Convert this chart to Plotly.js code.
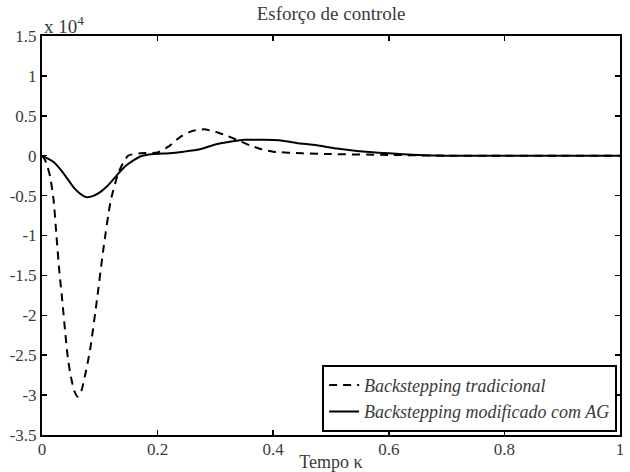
<!DOCTYPE html>
<html>
<head>
<meta charset="utf-8">
<script src="https://cdn.plot.ly/plotly-3.0.1.min.js"></script>
<style>
html,body{margin:0;padding:0;background:#fff;}
#chart{width:630px;height:472px;}
</style>
</head>
<body>
<div id="chart"></div>
<script>
// Values in units of 10^4
var tradX = [0, 0.005, 0.01, 0.014, 0.02, 0.025, 0.03, 0.035, 0.04, 0.045, 0.05, 0.056, 0.062, 0.068, 0.074, 0.083, 0.095, 0.106, 0.119, 0.133, 0.149, 0.17, 0.2, 0.22, 0.24, 0.26, 0.28, 0.3, 0.32, 0.34, 0.36, 0.38, 0.4, 0.45, 0.5, 0.6, 0.7, 0.8, 0.9, 1.0];
var tradY = [0, -0.05, -0.15, -0.26, -0.55, -1.0, -1.45, -1.81, -2.2, -2.55, -2.77, -2.95, -3.02, -2.95, -2.77, -2.44, -1.81, -1.18, -0.56, -0.2, 0.0, 0.03, 0.04, 0.12, 0.24, 0.31, 0.33, 0.3, 0.25, 0.19, 0.13, 0.08, 0.05, 0.03, 0.02, 0.01, 0, 0, 0, 0];

var modX = [0, 0.02, 0.035, 0.054, 0.065, 0.077, 0.09, 0.1, 0.113, 0.123, 0.135, 0.146, 0.17, 0.193, 0.22, 0.245, 0.273, 0.3, 0.33, 0.35, 0.38, 0.41, 0.44, 0.475, 0.51, 0.545, 0.6, 0.65, 0.7, 0.8, 0.9, 1.0];
var modY = [0, -0.08, -0.2, -0.39, -0.47, -0.52, -0.5, -0.46, -0.38, -0.3, -0.2, -0.12, -0.01, 0.02, 0.03, 0.05, 0.08, 0.14, 0.18, 0.2, 0.2, 0.195, 0.16, 0.13, 0.09, 0.06, 0.03, 0.01, 0, 0, 0, 0];

var seriesNames = ["Backstepping tradicional", "Backstepping modificado com AG"];
var xTicks = [0, 0.2, 0.4, 0.6, 0.8, 1];
var xTickText = ["0", "0.2", "0.4", "0.6", "0.8", "1"];
var yTicks = [-3.5, -3, -2.5, -2, -1.5, -1, -0.5, 0, 0.5, 1, 1.5];
var yTickText = ["-3.5", "-3", "-2.5", "-2", "-1.5", "-1", "-0.5", "0", "0.5", "1", "1.5"];

var fontFam = "'Liberation Serif', 'Times New Roman', serif";
var textCol = "#3a3a3a";

var traces = [
  {x: tradX, y: tradY, mode: "lines", name: seriesNames[0],
   line: {color: "#000", width: 2, dash: "8px,6px", shape: "spline", smoothing: 0.6}},
  {x: modX, y: modY, mode: "lines", name: seriesNames[1],
   line: {color: "#000", width: 2, shape: "spline", smoothing: 0.6}}
];

var axisCommon = {
  showgrid: false, zeroline: false, showline: true, linecolor: "#000", linewidth: 2,
  mirror: "ticks", ticks: "inside", ticklen: 5, tickwidth: 1.5, tickcolor: "#000",
  automargin: false,
  tickfont: {family: fontFam, size: 17, color: textCol}
};

var layout = {
  width: 630, height: 472,
  margin: {l: 42, r: 10, t: 36, b: 37},
  paper_bgcolor: "#fff", plot_bgcolor: "#fff",
  showlegend: true,
  title: {text: "Esforço de controle", font: {family: fontFam, size: 19, color: textCol},
          x: 0.5255, xanchor: "center", y: 0.972, yanchor: "middle"},
  xaxis: Object.assign({}, axisCommon, {
    range: [0, 1], tickvals: xTicks, ticktext: xTickText, ticklabelstandoff: -2,
    title: {text: "Tempo κ", font: {family: fontFam, size: 18, color: textCol}, standoff: 0}
  }),
  yaxis: Object.assign({}, axisCommon, {
    range: [-3.5, 1.5], tickvals: yTicks, ticktext: yTickText, ticklabelstandoff: 0
  }),
  legend: {
    x: 0.995, y: 0.008, xanchor: "right", yanchor: "bottom",
    bgcolor: "#fff", bordercolor: "#000", borderwidth: 2,
    font: {family: fontFam, size: 18, color: textCol, style: "italic"},
    tracegroupgap: 0, itemwidth: 30
  },
  annotations: [{
    xref: "paper", yref: "paper", x: 0, y: 1, xanchor: "left", yanchor: "bottom",
    text: "x 10<sup>4</sup>", showarrow: false, xshift: 0, yshift: -3,
    font: {family: fontFam, size: 19, color: textCol}
  }]
};

Plotly.newPlot("chart", traces, layout, {staticPlot: true, displayModeBar: false});
</script>
</body>
</html>
